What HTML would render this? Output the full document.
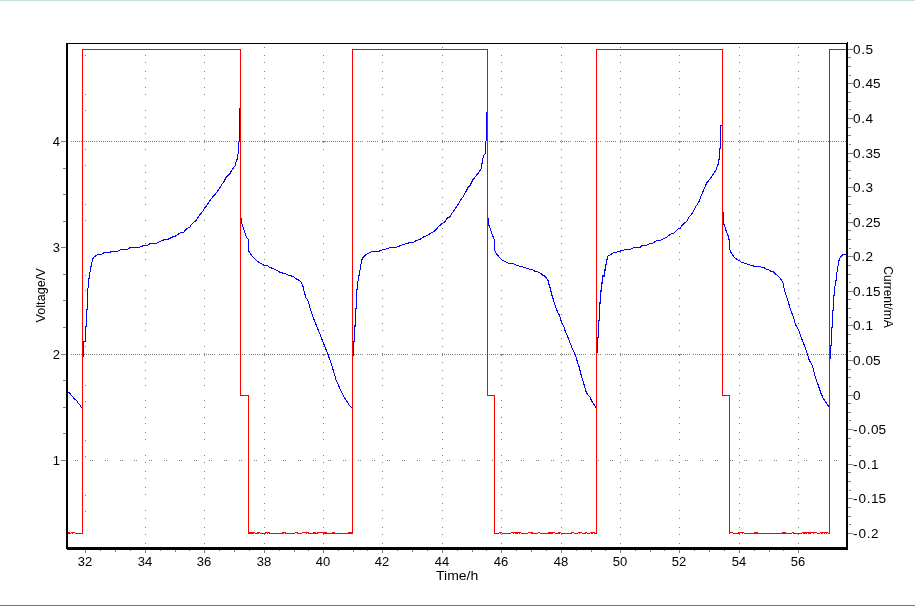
<!DOCTYPE html>
<html><head><meta charset="utf-8"><style>
html,body{margin:0;padding:0;background:#fff;}
body{width:918px;height:606px;position:relative;overflow:hidden;}
svg{position:absolute;left:0;top:0;}
.bl,.ll,.rl,.tt{position:absolute;font-family:"Liberation Sans",Arial,sans-serif;color:#000;white-space:nowrap;line-height:1;}
.bl{font-size:13px;width:40px;text-align:center;margin-top:555px;}
.ll{font-size:13px;width:60px;text-align:right;margin-top:-6px;}
.rl{font-size:13.6px;margin-top:-6.5px;}
.vt{position:absolute;font-family:"Liberation Sans",Arial,sans-serif;font-size:12px;line-height:1;white-space:nowrap;color:#000;}
</style></head><body>
<svg width="918" height="606" viewBox="0 0 918 606" shape-rendering="crispEdges"><rect x="0" y="0" width="915" height="1" fill="#c8e0d9"/><rect x="0" y="605" width="915" height="1" fill="#478b85"/><path d="M191 354h1v1h-1zM264 487h1v1h-1zM264 78h1v1h-1zM505 141h1v1h-1zM145 243h1v1h-1zM204 149h1v1h-1zM791 354h1v1h-1zM718 141h1v1h-1zM322 141h1v1h-1zM561 157h1v1h-1zM620 243h1v1h-1zM679 149h1v1h-1zM742 354h1v1h-1zM323 370h1v1h-1zM189 141h1v1h-1zM264 55h1v1h-1zM323 141h1v1h-1zM798 142h1v1h-1zM821 354h1v1h-1zM145 220h1v1h-1zM204 306h1v1h-1zM748 141h1v1h-1zM561 543h1v1h-1zM620 220h1v1h-1zM527 141h1v1h-1zM772 354h1v1h-1zM679 126h1v1h-1zM501 534h1v1h-1zM615 141h1v1h-1zM323 527h1v1h-1zM264 212h1v1h-1zM740 141h1v1h-1zM723 354h1v1h-1zM377 354h1v1h-1zM304 141h1v1h-1zM739 298h1v1h-1zM145 462h1v1h-1zM802 354h1v1h-1zM620 197h1v1h-1zM590 354h1v1h-1zM442 47h1v1h-1zM620 462h1v1h-1zM770 141h1v1h-1zM382 181h1v1h-1zM407 354h1v1h-1zM739 455h1v1h-1zM620 354h1v1h-1zM358 354h1v1h-1zM96 354h1v1h-1zM800 141h1v1h-1zM538 141h1v1h-1zM620 439h1v1h-1zM501 259h1v1h-1zM323 252h1v1h-1zM562 354h1v1h-1zM489 141h1v1h-1zM204 417h1v1h-1zM739 432h1v1h-1zM382 423h1v1h-1zM388 354h1v1h-1zM798 338h1v1h-1zM568 141h1v1h-1zM442 181h1v1h-1zM561 510h1v1h-1zM356 141h1v1h-1zM501 236h1v1h-1zM592 354h1v1h-1zM435 141h1v1h-1zM323 494h1v1h-1zM382 400h1v1h-1zM648 141h1v1h-1zM386 141h1v1h-1zM197 354h1v1h-1zM124 141h1v1h-1zM622 354h1v1h-1zM85 149h1v1h-1zM442 423h1v1h-1zM337 141h1v1h-1zM148 354h1v1h-1zM204 142h1v1h-1zM323 471h1v1h-1zM739 157h1v1h-1zM416 141h1v1h-1zM227 354h1v1h-1zM323 62h1v1h-1zM154 141h1v1h-1zM501 370h1v1h-1zM367 141h1v1h-1zM178 354h1v1h-1zM105 141h1v1h-1zM442 400h1v1h-1zM739 543h1v1h-1zM184 141h1v1h-1zM129 354h1v1h-1zM382 534h1v1h-1zM264 133h1v1h-1zM778 354h1v1h-1zM145 298h1v1h-1zM397 141h1v1h-1zM208 354h1v1h-1zM561 212h1v1h-1zM620 298h1v1h-1zM679 204h1v1h-1zM159 354h1v1h-1zM808 354h1v1h-1zM264 110h1v1h-1zM798 197h1v1h-1zM145 455h1v1h-1zM798 462h1v1h-1zM759 354h1v1h-1zM206 141h1v1h-1zM620 275h1v1h-1zM442 534h1v1h-1zM838 354h1v1h-1zM264 267h1v1h-1zM553 141h1v1h-1zM382 259h1v1h-1zM145 432h1v1h-1zM789 354h1v1h-1zM236 141h1v1h-1zM798 439h1v1h-1zM739 353h1v1h-1zM561 346h1v1h-1zM620 252h1v1h-1zM583 141h1v1h-1zM442 102h1v1h-1zM836 141h1v1h-1zM323 330h1v1h-1zM819 354h1v1h-1zM382 236h1v1h-1zM607 354h1v1h-1zM739 510h1v1h-1zM787 141h1v1h-1zM561 323h1v1h-1zM561 94h1v1h-1zM442 259h1v1h-1zM811 354h1v1h-1zM501 314h1v1h-1zM637 354h1v1h-1zM375 354h1v1h-1zM817 141h1v1h-1zM555 141h1v1h-1zM739 487h1v1h-1zM382 478h1v1h-1zM798 393h1v1h-1zM739 78h1v1h-1zM561 71h1v1h-1zM841 354h1v1h-1zM768 141h1v1h-1zM579 354h1v1h-1zM442 236h1v1h-1zM501 471h1v1h-1zM667 354h1v1h-1zM405 354h1v1h-1zM264 378h1v1h-1zM501 62h1v1h-1zM382 370h1v1h-1zM585 141h1v1h-1zM145 543h1v1h-1zM373 141h1v1h-1zM382 455h1v1h-1zM798 141h1v1h-1zM609 354h1v1h-1zM452 141h1v1h-1zM85 204h1v1h-1zM560 354h1v1h-1zM264 355h1v1h-1zM442 478h1v1h-1zM665 141h1v1h-1zM403 141h1v1h-1zM214 354h1v1h-1zM141 141h1v1h-1zM204 197h1v1h-1zM639 354h1v1h-1zM798 527h1v1h-1zM739 212h1v1h-1zM427 354h1v1h-1zM204 462h1v1h-1zM354 141h1v1h-1zM442 370h1v1h-1zM561 290h1v1h-1zM433 141h1v1h-1zM244 354h1v1h-1zM171 141h1v1h-1zM442 455h1v1h-1zM457 354h1v1h-1zM264 188h1v1h-1zM384 141h1v1h-1zM195 354h1v1h-1zM798 275h1v1h-1zM204 439h1v1h-1zM274 354h1v1h-1zM620 353h1v1h-1zM679 439h1v1h-1zM487 354h1v1h-1zM414 141h1v1h-1zM225 354h1v1h-1zM798 252h1v1h-1zM145 510h1v1h-1zM193 141h1v1h-1zM176 354h1v1h-1zM620 330h1v1h-1zM255 354h1v1h-1zM739 323h1v1h-1zM223 141h1v1h-1zM382 314h1v1h-1zM145 487h1v1h-1zM145 78h1v1h-1zM798 494h1v1h-1zM832 141h1v1h-1zM620 487h1v1h-1zM174 141h1v1h-1zM561 172h1v1h-1zM620 78h1v1h-1zM73 354h1v1h-1zM806 354h1v1h-1zM253 141h1v1h-1zM323 385h1v1h-1zM382 62h1v1h-1zM673 354h1v1h-1zM277 354h1v1h-1zM600 141h1v1h-1zM204 141h1v1h-1zM798 471h1v1h-1zM561 378h1v1h-1zM561 149h1v1h-1zM679 370h1v1h-1zM620 55h1v1h-1zM679 141h1v1h-1zM442 314h1v1h-1zM624 354h1v1h-1zM804 141h1v1h-1zM323 362h1v1h-1zM264 47h1v1h-1zM703 354h1v1h-1zM307 354h1v1h-1zM630 141h1v1h-1zM234 141h1v1h-1zM204 527h1v1h-1zM679 527h1v1h-1zM561 126h1v1h-1zM620 212h1v1h-1zM654 354h1v1h-1zM392 354h1v1h-1zM101 141h1v1h-1zM834 141h1v1h-1zM501 117h1v1h-1zM660 141h1v1h-1zM75 354h1v1h-1zM605 354h1v1h-1zM323 110h1v1h-1zM785 141h1v1h-1zM204 275h1v1h-1zM739 290h1v1h-1zM422 354h1v1h-1zM501 94h1v1h-1zM323 87h1v1h-1zM145 346h1v1h-1zM204 252h1v1h-1zM739 267h1v1h-1zM798 353h1v1h-1zM420 141h1v1h-1zM679 252h1v1h-1zM633 141h1v1h-1zM444 354h1v1h-1zM145 323h1v1h-1zM264 423h1v1h-1zM712 141h1v1h-1zM523 354h1v1h-1zM798 330h1v1h-1zM450 141h1v1h-1zM204 494h1v1h-1zM663 141h1v1h-1zM474 354h1v1h-1zM401 141h1v1h-1zM212 354h1v1h-1zM679 494h1v1h-1zM480 141h1v1h-1zM687 354h1v1h-1zM264 400h1v1h-1zM323 306h1v1h-1zM268 141h1v1h-1zM204 471h1v1h-1zM693 141h1v1h-1zM242 354h1v1h-1zM679 471h1v1h-1zM679 62h1v1h-1zM455 354h1v1h-1zM739 378h1v1h-1zM798 55h1v1h-1zM272 354h1v1h-1zM502 141h1v1h-1zM501 362h1v1h-1zM240 141h1v1h-1zM485 354h1v1h-1zM620 133h1v1h-1zM139 354h1v1h-1zM264 354h1v1h-1zM739 355h1v1h-1zM739 126h1v1h-1zM382 346h1v1h-1zM382 117h1v1h-1zM352 354h1v1h-1zM145 290h1v1h-1zM90 354h1v1h-1zM823 354h1v1h-1zM532 141h1v1h-1zM270 141h1v1h-1zM561 204h1v1h-1zM620 110h1v1h-1zM294 354h1v1h-1zM221 141h1v1h-1zM323 417h1v1h-1zM264 102h1v1h-1zM323 188h1v1h-1zM120 354h1v1h-1zM382 94h1v1h-1zM300 141h1v1h-1zM507 354h1v1h-1zM204 353h1v1h-1zM71 354h1v1h-1zM561 181h1v1h-1zM620 267h1v1h-1zM720 354h1v1h-1zM324 354h1v1h-1zM251 141h1v1h-1zM442 346h1v1h-1zM442 117h1v1h-1zM501 172h1v1h-1zM671 354h1v1h-1zM323 165h1v1h-1zM382 71h1v1h-1zM118 141h1v1h-1zM204 330h1v1h-1zM561 338h1v1h-1zM679 330h1v1h-1zM331 141h1v1h-1zM442 503h1v1h-1zM442 94h1v1h-1zM561 423h1v1h-1zM701 354h1v1h-1zM264 236h1v1h-1zM323 142h1v1h-1zM669 141h1v1h-1zM204 78h1v1h-1zM323 407h1v1h-1zM652 354h1v1h-1zM99 141h1v1h-1zM731 354h1v1h-1zM442 71h1v1h-1zM501 306h1v1h-1zM699 141h1v1h-1zM437 141h1v1h-1zM145 378h1v1h-1zM264 478h1v1h-1zM204 55h1v1h-1zM798 385h1v1h-1zM650 141h1v1h-1zM620 378h1v1h-1zM442 228h1v1h-1zM729 141h1v1h-1zM333 141h1v1h-1zM540 354h1v1h-1zM467 141h1v1h-1zM145 355h1v1h-1zM145 126h1v1h-1zM264 455h1v1h-1zM753 354h1v1h-1zM680 141h1v1h-1zM491 354h1v1h-1zM418 141h1v1h-1zM798 362h1v1h-1zM739 47h1v1h-1zM798 133h1v1h-1zM620 355h1v1h-1zM570 354h1v1h-1zM497 141h1v1h-1zM561 534h1v1h-1zM285 141h1v1h-1zM783 354h1v1h-1zM710 141h1v1h-1zM521 354h1v1h-1zM259 354h1v1h-1zM264 432h1v1h-1zM323 518h1v1h-1zM739 204h1v1h-1zM798 110h1v1h-1zM472 354h1v1h-1zM315 141h1v1h-1zM126 354h1v1h-1zM501 417h1v1h-1zM620 188h1v1h-1zM551 354h1v1h-1zM685 354h1v1h-1zM339 354h1v1h-1zM77 354h1v1h-1zM519 141h1v1h-1zM739 181h1v1h-1zM257 141h1v1h-1zM382 172h1v1h-1zM798 87h1v1h-1zM345 141h1v1h-1zM156 354h1v1h-1zM85 330h1v1h-1zM470 141h1v1h-1zM561 259h1v1h-1zM369 354h1v1h-1zM107 354h1v1h-1zM549 141h1v1h-1zM683 141h1v1h-1zM287 141h1v1h-1zM264 157h1v1h-1zM323 243h1v1h-1zM382 149h1v1h-1zM500 141h1v1h-1zM739 423h1v1h-1zM238 141h1v1h-1zM137 354h1v1h-1zM501 142h1v1h-1zM317 141h1v1h-1zM442 172h1v1h-1zM501 407h1v1h-1zM264 543h1v1h-1zM264 314h1v1h-1zM88 354h1v1h-1zM323 220h1v1h-1zM382 306h1v1h-1zM530 141h1v1h-1zM204 385h1v1h-1zM739 400h1v1h-1zM561 393h1v1h-1zM292 354h1v1h-1zM679 385h1v1h-1zM135 141h1v1h-1zM442 149h1v1h-1zM505 354h1v1h-1zM323 197h1v1h-1zM86 141h1v1h-1zM204 362h1v1h-1zM204 133h1v1h-1zM323 462h1v1h-1zM718 354h1v1h-1zM322 354h1v1h-1zM561 370h1v1h-1zM165 141h1v1h-1zM679 362h1v1h-1zM620 47h1v1h-1zM442 126h1v1h-1zM189 354h1v1h-1zM116 141h1v1h-1zM323 354h1v1h-1zM503 141h1v1h-1zM748 354h1v1h-1zM145 204h1v1h-1zM739 534h1v1h-1zM204 110h1v1h-1zM329 141h1v1h-1zM716 141h1v1h-1zM527 354h1v1h-1zM679 110h1v1h-1zM442 283h1v1h-1zM615 354h1v1h-1zM146 141h1v1h-1zM740 354h1v1h-1zM145 181h1v1h-1zM264 510h1v1h-1zM204 87h1v1h-1zM746 141h1v1h-1zM739 102h1v1h-1zM798 188h1v1h-1zM679 87h1v1h-1zM770 354h1v1h-1zM697 141h1v1h-1zM776 141h1v1h-1zM325 354h1v1h-1zM739 259h1v1h-1zM302 141h1v1h-1zM798 165h1v1h-1zM145 423h1v1h-1zM800 354h1v1h-1zM727 141h1v1h-1zM538 354h1v1h-1zM620 423h1v1h-1zM489 354h1v1h-1zM594 141h1v1h-1zM739 236h1v1h-1zM568 354h1v1h-1zM145 400h1v1h-1zM356 354h1v1h-1zM798 407h1v1h-1zM85 385h1v1h-1zM561 314h1v1h-1zM620 400h1v1h-1zM536 141h1v1h-1zM501 220h1v1h-1zM679 306h1v1h-1zM435 354h1v1h-1zM362 141h1v1h-1zM323 298h1v1h-1zM648 354h1v1h-1zM382 204h1v1h-1zM386 354h1v1h-1zM124 354h1v1h-1zM828 141h1v1h-1zM739 478h1v1h-1zM566 141h1v1h-1zM561 471h1v1h-1zM501 197h1v1h-1zM561 62h1v1h-1zM337 354h1v1h-1zM517 141h1v1h-1zM501 462h1v1h-1zM739 370h1v1h-1zM416 354h1v1h-1zM323 275h1v1h-1zM154 354h1v1h-1zM145 534h1v1h-1zM596 141h1v1h-1zM122 141h1v1h-1zM367 354h1v1h-1zM561 448h1v1h-1zM620 534h1v1h-1zM105 354h1v1h-1zM85 110h1v1h-1zM547 141h1v1h-1zM681 141h1v1h-1zM442 204h1v1h-1zM335 141h1v1h-1zM501 439h1v1h-1zM184 354h1v1h-1zM264 346h1v1h-1zM323 432h1v1h-1zM309 354h1v1h-1zM152 141h1v1h-1zM397 354h1v1h-1zM204 188h1v1h-1zM798 518h1v1h-1zM679 417h1v1h-1zM620 102h1v1h-1zM679 188h1v1h-1zM103 141h1v1h-1zM264 323h1v1h-1zM264 94h1v1h-1zM182 141h1v1h-1zM145 259h1v1h-1zM204 165h1v1h-1zM206 354h1v1h-1zM133 141h1v1h-1zM679 165h1v1h-1zM442 338h1v1h-1zM84 141h1v1h-1zM264 71h1v1h-1zM733 141h1v1h-1zM145 236h1v1h-1zM236 354h1v1h-1zM163 141h1v1h-1zM798 243h1v1h-1zM620 236h1v1h-1zM204 407h1v1h-1zM679 142h1v1h-1zM836 354h1v1h-1zM763 141h1v1h-1zM679 407h1v1h-1zM501 141h1v1h-1zM787 354h1v1h-1zM739 314h1v1h-1zM714 141h1v1h-1zM798 220h1v1h-1zM145 478h1v1h-1zM793 141h1v1h-1zM501 527h1v1h-1zM620 478h1v1h-1zM501 298h1v1h-1zM382 197h1v1h-1zM817 354h1v1h-1zM145 370h1v1h-1zM555 354h1v1h-1zM264 290h1v1h-1zM739 62h1v1h-1zM768 354h1v1h-1zM611 141h1v1h-1zM85 440h1v1h-1zM349 141h1v1h-1zM620 455h1v1h-1zM501 275h1v1h-1zM561 140h1v1h-1zM585 354h1v1h-1zM373 354h1v1h-1zM739 448h1v1h-1zM815 141h1v1h-1zM382 439h1v1h-1zM798 354h1v1h-1zM204 518h1v1h-1zM641 141h1v1h-1zM452 354h1v1h-1zM620 432h1v1h-1zM679 518h1v1h-1zM501 252h1v1h-1zM561 117h1v1h-1zM665 354h1v1h-1zM403 354h1v1h-1zM141 354h1v1h-1zM845 141h1v1h-1zM323 510h1v1h-1zM798 102h1v1h-1zM354 354h1v1h-1zM534 141h1v1h-1zM561 503h1v1h-1zM433 354h1v1h-1zM85 165h1v1h-1zM171 354h1v1h-1zM613 141h1v1h-1zM442 439h1v1h-1zM501 494h1v1h-1zM323 487h1v1h-1zM384 354h1v1h-1zM264 172h1v1h-1zM826 141h1v1h-1zM323 78h1v1h-1zM564 141h1v1h-1zM204 243h1v1h-1zM620 157h1v1h-1zM679 243h1v1h-1zM431 141h1v1h-1zM169 141h1v1h-1zM414 354h1v1h-1zM264 149h1v1h-1zM323 55h1v1h-1zM382 141h1v1h-1zM193 354h1v1h-1zM145 314h1v1h-1zM204 220h1v1h-1zM620 543h1v1h-1zM461 141h1v1h-1zM561 228h1v1h-1zM620 314h1v1h-1zM199 141h1v1h-1zM679 220h1v1h-1zM442 393h1v1h-1zM412 141h1v1h-1zM223 354h1v1h-1zM382 527h1v1h-1zM264 126h1v1h-1zM150 141h1v1h-1zM145 62h1v1h-1zM229 141h1v1h-1zM798 298h1v1h-1zM174 354h1v1h-1zM679 197h1v1h-1zM442 141h1v1h-1zM253 354h1v1h-1zM180 141h1v1h-1zM679 462h1v1h-1zM264 283h1v1h-1zM600 354h1v1h-1zM204 354h1v1h-1zM798 455h1v1h-1zM739 140h1v1h-1zM561 362h1v1h-1zM679 354h1v1h-1zM442 527h1v1h-1zM804 354h1v1h-1zM630 354h1v1h-1zM234 354h1v1h-1zM382 252h1v1h-1zM739 346h1v1h-1zM798 432h1v1h-1zM739 117h1v1h-1zM598 141h1v1h-1zM101 354h1v1h-1zM834 354h1v1h-1zM85 495h1v1h-1zM281 141h1v1h-1zM620 510h1v1h-1zM501 330h1v1h-1zM323 323h1v1h-1zM785 354h1v1h-1zM628 141h1v1h-1zM739 503h1v1h-1zM382 494h1v1h-1zM739 94h1v1h-1zM561 87h1v1h-1zM579 141h1v1h-1zM442 252h1v1h-1zM501 78h1v1h-1zM658 141h1v1h-1zM262 141h1v1h-1zM382 471h1v1h-1zM739 71h1v1h-1zM798 157h1v1h-1zM609 141h1v1h-1zM420 354h1v1h-1zM347 141h1v1h-1zM85 220h1v1h-1zM633 354h1v1h-1zM501 55h1v1h-1zM442 494h1v1h-1zM813 141h1v1h-1zM712 354h1v1h-1zM798 543h1v1h-1zM450 354h1v1h-1zM639 141h1v1h-1zM739 228h1v1h-1zM323 133h1v1h-1zM204 298h1v1h-1zM663 354h1v1h-1zM401 354h1v1h-1zM561 306h1v1h-1zM843 141h1v1h-1zM679 298h1v1h-1zM581 141h1v1h-1zM442 471h1v1h-1zM442 62h1v1h-1zM480 354h1v1h-1zM264 204h1v1h-1zM323 290h1v1h-1zM448 141h1v1h-1zM204 455h1v1h-1zM693 354h1v1h-1zM561 283h1v1h-1zM679 275h1v1h-1zM399 141h1v1h-1zM442 448h1v1h-1zM635 354h1v1h-1zM478 141h1v1h-1zM264 181h1v1h-1zM289 354h1v1h-1zM204 432h1v1h-1zM145 117h1v1h-1zM502 354h1v1h-1zM429 141h1v1h-1zM240 354h1v1h-1zM167 141h1v1h-1zM620 346h1v1h-1zM679 432h1v1h-1zM319 354h1v1h-1zM264 338h1v1h-1zM382 330h1v1h-1zM532 354h1v1h-1zM145 94h1v1h-1zM459 141h1v1h-1zM270 354h1v1h-1zM798 510h1v1h-1zM561 417h1v1h-1zM620 323h1v1h-1zM620 94h1v1h-1zM221 354h1v1h-1zM300 354h1v1h-1zM145 71h1v1h-1zM798 487h1v1h-1zM739 172h1v1h-1zM798 78h1v1h-1zM561 165h1v1h-1zM251 354h1v1h-1zM620 71h1v1h-1zM442 330h1v1h-1zM94 141h1v1h-1zM501 385h1v1h-1zM219 141h1v1h-1zM323 378h1v1h-1zM118 354h1v1h-1zM382 55h1v1h-1zM204 543h1v1h-1zM298 141h1v1h-1zM739 149h1v1h-1zM382 140h1v1h-1zM331 354h1v1h-1zM561 142h1v1h-1zM511 141h1v1h-1zM645 141h1v1h-1zM249 141h1v1h-1zM561 407h1v1h-1zM501 133h1v1h-1zM75 141h1v1h-1zM323 355h1v1h-1zM669 354h1v1h-1zM264 534h1v1h-1zM739 306h1v1h-1zM99 354h1v1h-1zM798 212h1v1h-1zM675 141h1v1h-1zM279 141h1v1h-1zM442 55h1v1h-1zM85 275h1v1h-1zM620 290h1v1h-1zM501 110h1v1h-1zM699 354h1v1h-1zM626 141h1v1h-1zM437 354h1v1h-1zM442 140h1v1h-1zM739 283h1v1h-1zM705 141h1v1h-1zM650 354h1v1h-1zM830 141h1v1h-1zM729 354h1v1h-1zM333 354h1v1h-1zM656 141h1v1h-1zM467 354h1v1h-1zM501 87h1v1h-1zM680 354h1v1h-1zM418 354h1v1h-1zM264 259h1v1h-1zM798 346h1v1h-1zM204 510h1v1h-1zM497 354h1v1h-1zM561 518h1v1h-1zM679 510h1v1h-1zM285 354h1v1h-1zM465 141h1v1h-1zM710 354h1v1h-1zM798 323h1v1h-1zM678 141h1v1h-1zM204 487h1v1h-1zM145 172h1v1h-1zM315 354h1v1h-1zM757 141h1v1h-1zM495 141h1v1h-1zM679 487h1v1h-1zM620 172h1v1h-1zM679 78h1v1h-1zM708 141h1v1h-1zM264 393h1v1h-1zM519 354h1v1h-1zM446 141h1v1h-1zM257 354h1v1h-1zM382 385h1v1h-1zM798 71h1v1h-1zM145 149h1v1h-1zM525 141h1v1h-1zM470 354h1v1h-1zM620 149h1v1h-1zM679 55h1v1h-1zM738 141h1v1h-1zM549 354h1v1h-1zM476 141h1v1h-1zM287 354h1v1h-1zM683 354h1v1h-1zM264 370h1v1h-1zM264 141h1v1h-1zM382 362h1v1h-1zM145 306h1v1h-1zM689 141h1v1h-1zM500 354h1v1h-1zM238 354h1v1h-1zM81 141h1v1h-1zM561 220h1v1h-1zM501 355h1v1h-1zM620 126h1v1h-1zM317 354h1v1h-1zM442 385h1v1h-1zM294 141h1v1h-1zM264 527h1v1h-1zM530 354h1v1h-1zM382 110h1v1h-1zM111 141h1v1h-1zM798 290h1v1h-1zM561 197h1v1h-1zM620 283h1v1h-1zM324 141h1v1h-1zM135 354h1v1h-1zM442 362h1v1h-1zM577 141h1v1h-1zM561 462h1v1h-1zM501 188h1v1h-1zM323 181h1v1h-1zM86 354h1v1h-1zM382 87h1v1h-1zM204 346h1v1h-1zM266 141h1v1h-1zM798 267h1v1h-1zM165 354h1v1h-1zM92 141h1v1h-1zM442 110h1v1h-1zM561 439h1v1h-1zM116 354h1v1h-1zM501 165h1v1h-1zM296 141h1v1h-1zM503 354h1v1h-1zM204 323h1v1h-1zM323 423h1v1h-1zM739 338h1v1h-1zM509 141h1v1h-1zM716 354h1v1h-1zM643 141h1v1h-1zM679 323h1v1h-1zM146 354h1v1h-1zM442 87h1v1h-1zM114 141h1v1h-1zM264 494h1v1h-1zM746 354h1v1h-1zM204 71h1v1h-1zM323 400h1v1h-1zM327 141h1v1h-1zM697 354h1v1h-1zM85 55h1v1h-1zM144 141h1v1h-1zM776 354h1v1h-1zM264 471h1v1h-1zM264 62h1v1h-1zM798 378h1v1h-1zM302 354h1v1h-1zM744 141h1v1h-1zM482 141h1v1h-1zM727 354h1v1h-1zM695 141h1v1h-1zM679 133h1v1h-1zM442 306h1v1h-1zM264 448h1v1h-1zM323 534h1v1h-1zM774 141h1v1h-1zM798 355h1v1h-1zM798 126h1v1h-1zM204 290h1v1h-1zM725 141h1v1h-1zM561 527h1v1h-1zM536 354h1v1h-1zM561 298h1v1h-1zM463 141h1v1h-1zM620 204h1v1h-1zM679 290h1v1h-1zM362 354h1v1h-1zM501 518h1v1h-1zM739 197h1v1h-1zM382 417h1v1h-1zM382 188h1v1h-1zM828 354h1v1h-1zM755 141h1v1h-1zM566 354h1v1h-1zM493 141h1v1h-1zM304 354h1v1h-1zM561 275h1v1h-1zM620 181h1v1h-1zM517 354h1v1h-1zM360 141h1v1h-1zM323 259h1v1h-1zM596 354h1v1h-1zM382 165h1v1h-1zM739 439h1v1h-1zM311 141h1v1h-1zM122 354h1v1h-1zM561 252h1v1h-1zM620 338h1v1h-1zM547 354h1v1h-1zM681 354h1v1h-1zM390 141h1v1h-1zM442 417h1v1h-1zM335 354h1v1h-1zM442 188h1v1h-1zM515 141h1v1h-1zM501 243h1v1h-1zM323 236h1v1h-1zM341 141h1v1h-1zM152 354h1v1h-1zM382 142h1v1h-1zM79 141h1v1h-1zM382 407h1v1h-1zM103 354h1v1h-1zM545 141h1v1h-1zM442 165h1v1h-1zM561 494h1v1h-1zM283 141h1v1h-1zM501 400h1v1h-1zM371 141h1v1h-1zM182 354h1v1h-1zM109 141h1v1h-1zM204 378h1v1h-1zM323 478h1v1h-1zM739 393h1v1h-1zM133 354h1v1h-1zM575 141h1v1h-1zM679 378h1v1h-1zM313 141h1v1h-1zM442 142h1v1h-1zM84 354h1v1h-1zM733 354h1v1h-1zM442 407h1v1h-1zM163 354h1v1h-1zM204 355h1v1h-1zM204 126h1v1h-1zM323 455h1v1h-1zM264 140h1v1h-1zM343 141h1v1h-1zM798 47h1v1h-1zM131 141h1v1h-1zM679 355h1v1h-1zM85 290h1v1h-1zM763 354h1v1h-1zM501 354h1v1h-1zM210 141h1v1h-1zM145 197h1v1h-1zM739 527h1v1h-1zM714 354h1v1h-1zM382 518h1v1h-1zM264 117h1v1h-1zM798 204h1v1h-1zM161 141h1v1h-1zM793 354h1v1h-1zM761 141h1v1h-1zM264 503h1v1h-1zM191 141h1v1h-1zM325 141h1v1h-1zM739 275h1v1h-1zM798 181h1v1h-1zM145 439h1v1h-1zM611 354h1v1h-1zM349 354h1v1h-1zM791 141h1v1h-1zM561 353h1v1h-1zM620 259h1v1h-1zM442 518h1v1h-1zM815 354h1v1h-1zM742 141h1v1h-1zM553 354h1v1h-1zM739 252h1v1h-1zM382 243h1v1h-1zM641 354h1v1h-1zM821 141h1v1h-1zM798 423h1v1h-1zM85 401h1v1h-1zM561 330h1v1h-1zM845 354h1v1h-1zM772 141h1v1h-1zM583 354h1v1h-1zM323 543h1v1h-1zM264 228h1v1h-1zM323 314h1v1h-1zM382 220h1v1h-1zM723 141h1v1h-1zM534 354h1v1h-1zM739 494h1v1h-1zM377 141h1v1h-1zM798 400h1v1h-1zM561 487h1v1h-1zM620 393h1v1h-1zM561 78h1v1h-1zM802 141h1v1h-1zM613 354h1v1h-1zM442 243h1v1h-1zM590 141h1v1h-1zM501 478h1v1h-1zM264 385h1v1h-1zM826 354h1v1h-1zM564 354h1v1h-1zM407 141h1v1h-1zM739 471h1v1h-1zM382 462h1v1h-1zM620 370h1v1h-1zM561 55h1v1h-1zM620 141h1v1h-1zM431 354h1v1h-1zM358 141h1v1h-1zM169 354h1v1h-1zM96 141h1v1h-1zM442 220h1v1h-1zM501 455h1v1h-1zM264 362h1v1h-1zM382 354h1v1h-1zM309 141h1v1h-1zM145 527h1v1h-1zM562 141h1v1h-1zM204 204h1v1h-1zM798 534h1v1h-1zM461 354h1v1h-1zM620 527h1v1h-1zM388 141h1v1h-1zM199 354h1v1h-1zM442 197h1v1h-1zM501 432h1v1h-1zM412 354h1v1h-1zM150 354h1v1h-1zM442 462h1v1h-1zM592 141h1v1h-1zM145 275h1v1h-1zM204 181h1v1h-1zM229 354h1v1h-1zM679 181h1v1h-1zM197 141h1v1h-1zM442 354h1v1h-1zM180 354h1v1h-1zM622 141h1v1h-1zM264 87h1v1h-1zM148 141h1v1h-1zM145 252h1v1h-1zM798 259h1v1h-1zM227 141h1v1h-1zM204 423h1v1h-1zM679 423h1v1h-1zM178 141h1v1h-1zM739 330h1v1h-1zM598 354h1v1h-1zM129 141h1v1h-1zM798 236h1v1h-1zM145 494h1v1h-1zM778 141h1v1h-1zM204 400h1v1h-1zM281 354h1v1h-1zM208 141h1v1h-1zM501 543h1v1h-1zM620 494h1v1h-1zM679 400h1v1h-1zM628 354h1v1h-1zM159 141h1v1h-1zM264 306h1v1h-1zM808 141h1v1h-1zM382 298h1v1h-1zM145 471h1v1h-1zM798 478h1v1h-1zM832 354h1v1h-1zM85 456h1v1h-1zM759 141h1v1h-1zM561 385h1v1h-1zM620 471h1v1h-1zM620 62h1v1h-1zM262 354h1v1h-1zM658 354h1v1h-1zM838 141h1v1h-1zM798 370h1v1h-1zM739 55h1v1h-1zM382 275h1v1h-1zM347 354h1v1h-1zM204 534h1v1h-1zM789 141h1v1h-1zM620 448h1v1h-1zM679 534h1v1h-1zM561 133h1v1h-1zM813 354h1v1h-1zM442 298h1v1h-1zM323 346h1v1h-1zM382 432h1v1h-1zM323 117h1v1h-1zM819 141h1v1h-1zM607 141h1v1h-1zM843 354h1v1h-1zM581 354h1v1h-1zM561 110h1v1h-1zM442 275h1v1h-1zM501 510h1v1h-1zM811 141h1v1h-1zM660 354h1v1h-1zM264 417h1v1h-1zM323 94h1v1h-1zM637 141h1v1h-1zM448 354h1v1h-1zM375 141h1v1h-1zM204 259h1v1h-1zM561 267h1v1h-1zM399 354h1v1h-1zM679 259h1v1h-1zM442 432h1v1h-1zM841 141h1v1h-1zM501 487h1v1h-1zM667 141h1v1h-1zM478 354h1v1h-1zM405 141h1v1h-1zM264 165h1v1h-1zM323 71h1v1h-1zM145 330h1v1h-1zM204 236h1v1h-1zM429 354h1v1h-1zM167 354h1v1h-1zM679 236h1v1h-1zM382 543h1v1h-1zM560 141h1v1h-1zM264 142h1v1h-1zM214 141h1v1h-1zM459 354h1v1h-1zM264 407h1v1h-1zM798 314h1v1h-1zM204 478h1v1h-1zM427 141h1v1h-1zM442 157h1v1h-1zM679 478h1v1h-1zM244 141h1v1h-1zM204 370h1v1h-1zM145 55h1v1h-1zM739 385h1v1h-1zM457 141h1v1h-1zM268 354h1v1h-1zM195 141h1v1h-1zM798 62h1v1h-1zM442 543h1v1h-1zM94 354h1v1h-1zM274 141h1v1h-1zM219 354h1v1h-1zM679 455h1v1h-1zM620 140h1v1h-1zM487 141h1v1h-1zM298 354h1v1h-1zM225 141h1v1h-1zM739 362h1v1h-1zM798 448h1v1h-1zM739 133h1v1h-1zM382 353h1v1h-1zM561 355h1v1h-1zM511 354h1v1h-1zM645 354h1v1h-1zM249 354h1v1h-1zM176 141h1v1h-1zM85 511h1v1h-1zM501 346h1v1h-1zM620 117h1v1h-1zM255 141h1v1h-1zM264 518h1v1h-1zM382 510h1v1h-1zM739 110h1v1h-1zM675 354h1v1h-1zM279 354h1v1h-1zM620 503h1v1h-1zM501 323h1v1h-1zM561 188h1v1h-1zM626 354h1v1h-1zM442 353h1v1h-1zM73 141h1v1h-1zM806 141h1v1h-1zM705 354h1v1h-1zM382 487h1v1h-1zM323 172h1v1h-1zM739 87h1v1h-1zM382 78h1v1h-1zM830 354h1v1h-1zM673 141h1v1h-1zM277 141h1v1h-1zM656 354h1v1h-1zM501 71h1v1h-1zM442 510h1v1h-1zM624 141h1v1h-1zM264 243h1v1h-1zM323 149h1v1h-1zM703 141h1v1h-1zM307 141h1v1h-1zM204 314h1v1h-1zM679 543h1v1h-1zM620 228h1v1h-1zM679 314h1v1h-1zM465 354h1v1h-1zM654 141h1v1h-1zM442 487h1v1h-1zM392 141h1v1h-1zM442 78h1v1h-1zM264 220h1v1h-1zM678 354h1v1h-1zM605 141h1v1h-1zM323 126h1v1h-1zM145 385h1v1h-1zM204 62h1v1h-1zM757 354h1v1h-1zM495 354h1v1h-1zM422 141h1v1h-1zM620 385h1v1h-1zM708 354h1v1h-1zM501 290h1v1h-1zM635 141h1v1h-1zM446 354h1v1h-1zM264 197h1v1h-1zM289 141h1v1h-1zM145 362h1v1h-1zM145 133h1v1h-1zM264 462h1v1h-1zM525 354h1v1h-1zM798 140h1v1h-1zM620 362h1v1h-1zM561 47h1v1h-1zM738 354h1v1h-1zM476 354h1v1h-1zM442 212h1v1h-1zM319 141h1v1h-1zM444 141h1v1h-1zM689 354h1v1h-1zM145 110h1v1h-1zM264 439h1v1h-1zM81 354h1v1h-1zM523 141h1v1h-1zM798 117h1v1h-1zM474 141h1v1h-1zM212 141h1v1h-1zM382 323h1v1h-1zM111 354h1v1h-1zM145 87h1v1h-1zM687 141h1v1h-1zM739 417h1v1h-1zM798 503h1v1h-1zM739 188h1v1h-1zM798 94h1v1h-1zM620 87h1v1h-1zM577 354h1v1h-1zM242 141h1v1h-1zM455 141h1v1h-1zM266 354h1v1h-1zM739 165h1v1h-1zM92 354h1v1h-1zM345 354h1v1h-1zM272 141h1v1h-1zM442 323h1v1h-1zM501 378h1v1h-1zM561 243h1v1h-1zM501 149h1v1h-1zM485 141h1v1h-1zM296 354h1v1h-1zM139 141h1v1h-1zM509 354h1v1h-1zM798 228h1v1h-1zM739 142h1v1h-1zM643 354h1v1h-1zM382 133h1v1h-1zM352 141h1v1h-1zM90 141h1v1h-1zM823 141h1v1h-1zM739 407h1v1h-1zM561 400h1v1h-1zM620 306h1v1h-1zM501 126h1v1h-1zM114 354h1v1h-1zM264 298h1v1h-1zM323 204h1v1h-1zM382 290h1v1h-1zM120 141h1v1h-1zM327 354h1v1h-1zM507 141h1v1h-1zM204 140h1v1h-1zM144 354h1v1h-1zM71 141h1v1h-1zM720 141h1v1h-1zM442 133h1v1h-1zM264 275h1v1h-1zM744 354h1v1h-1zM671 141h1v1h-1zM482 354h1v1h-1zM204 117h1v1h-1zM695 354h1v1h-1zM679 346h1v1h-1zM679 117h1v1h-1zM442 290h1v1h-1zM774 354h1v1h-1zM701 141h1v1h-1zM264 252h1v1h-1zM145 417h1v1h-1zM145 188h1v1h-1zM739 518h1v1h-1zM204 94h1v1h-1zM725 354h1v1h-1zM329 354h1v1h-1zM652 141h1v1h-1zM463 354h1v1h-1zM620 417h1v1h-1zM561 102h1v1h-1zM679 94h1v1h-1zM442 267h1v1h-1zM731 141h1v1h-1zM755 354h1v1h-1zM493 354h1v1h-1zM145 165h1v1h-1zM798 172h1v1h-1zM620 165h1v1h-1zM679 71h1v1h-1zM360 354h1v1h-1zM540 141h1v1h-1zM382 378h1v1h-1zM311 354h1v1h-1zM145 142h1v1h-1zM753 141h1v1h-1zM739 243h1v1h-1zM491 141h1v1h-1zM798 149h1v1h-1zM561 236h1v1h-1zM145 407h1v1h-1zM390 354h1v1h-1zM620 142h1v1h-1zM570 141h1v1h-1zM515 354h1v1h-1zM620 407h1v1h-1zM341 354h1v1h-1zM382 355h1v1h-1zM382 126h1v1h-1zM79 354h1v1h-1zM783 141h1v1h-1zM594 354h1v1h-1zM521 141h1v1h-1zM259 141h1v1h-1zM739 220h1v1h-1zM798 306h1v1h-1zM545 354h1v1h-1zM472 141h1v1h-1zM442 378h1v1h-1zM283 354h1v1h-1zM561 478h1v1h-1zM126 141h1v1h-1zM371 354h1v1h-1zM501 204h1v1h-1zM109 354h1v1h-1zM551 141h1v1h-1zM685 141h1v1h-1zM339 141h1v1h-1zM77 141h1v1h-1zM798 283h1v1h-1zM575 354h1v1h-1zM313 354h1v1h-1zM739 462h1v1h-1zM156 141h1v1h-1zM442 355h1v1h-1zM561 455h1v1h-1zM85 346h1v1h-1zM501 181h1v1h-1zM369 141h1v1h-1zM107 141h1v1h-1zM264 353h1v1h-1zM323 439h1v1h-1zM343 354h1v1h-1zM145 518h1v1h-1zM131 354h1v1h-1zM561 432h1v1h-1zM620 518h1v1h-1zM85 94h1v1h-1zM210 354h1v1h-1zM137 141h1v1h-1zM501 423h1v1h-1zM264 330h1v1h-1zM798 417h1v1h-1zM161 354h1v1h-1zM88 141h1v1h-1zM204 172h1v1h-1zM761 354h1v1h-1zM292 141h1v1h-1zM679 172h1v1h-1zM75 460h1v1h-1zM77 460h1v1h-1zM90 460h1v1h-1zM92 460h1v1h-1zM105 460h1v1h-1zM107 460h1v1h-1zM120 460h1v1h-1zM122 460h1v1h-1zM134 460h1v1h-1zM136 460h1v1h-1zM149 460h1v1h-1zM151 460h1v1h-1zM164 460h1v1h-1zM166 460h1v1h-1zM179 460h1v1h-1zM181 460h1v1h-1zM194 460h1v1h-1zM196 460h1v1h-1zM209 460h1v1h-1zM211 460h1v1h-1zM224 460h1v1h-1zM226 460h1v1h-1zM239 460h1v1h-1zM241 460h1v1h-1zM254 460h1v1h-1zM256 460h1v1h-1zM268 460h1v1h-1zM270 460h1v1h-1zM283 460h1v1h-1zM285 460h1v1h-1zM298 460h1v1h-1zM300 460h1v1h-1zM313 460h1v1h-1zM315 460h1v1h-1zM328 460h1v1h-1zM330 460h1v1h-1zM343 460h1v1h-1zM345 460h1v1h-1zM358 460h1v1h-1zM360 460h1v1h-1zM372 460h1v1h-1zM374 460h1v1h-1zM387 460h1v1h-1zM389 460h1v1h-1zM402 460h1v1h-1zM404 460h1v1h-1zM417 460h1v1h-1zM419 460h1v1h-1zM432 460h1v1h-1zM434 460h1v1h-1zM447 460h1v1h-1zM449 460h1v1h-1zM462 460h1v1h-1zM464 460h1v1h-1zM477 460h1v1h-1zM479 460h1v1h-1zM492 460h1v1h-1zM494 460h1v1h-1zM506 460h1v1h-1zM508 460h1v1h-1zM521 460h1v1h-1zM523 460h1v1h-1zM536 460h1v1h-1zM538 460h1v1h-1zM551 460h1v1h-1zM553 460h1v1h-1zM566 460h1v1h-1zM568 460h1v1h-1zM581 460h1v1h-1zM583 460h1v1h-1zM596 460h1v1h-1zM598 460h1v1h-1zM610 460h1v1h-1zM612 460h1v1h-1zM625 460h1v1h-1zM627 460h1v1h-1zM640 460h1v1h-1zM642 460h1v1h-1zM655 460h1v1h-1zM657 460h1v1h-1zM670 460h1v1h-1zM672 460h1v1h-1zM685 460h1v1h-1zM687 460h1v1h-1zM700 460h1v1h-1zM702 460h1v1h-1zM715 460h1v1h-1zM717 460h1v1h-1zM730 460h1v1h-1zM732 460h1v1h-1zM744 460h1v1h-1zM746 460h1v1h-1zM759 460h1v1h-1zM761 460h1v1h-1zM774 460h1v1h-1zM776 460h1v1h-1zM789 460h1v1h-1zM791 460h1v1h-1zM804 460h1v1h-1zM806 460h1v1h-1zM819 460h1v1h-1zM821 460h1v1h-1zM834 460h1v1h-1zM836 460h1v1h-1z" fill="#808080"/><path d="M85 550h1v3h-1zM100 550h1v1h-1zM115 550h1v2h-1zM130 550h1v1h-1zM145 550h1v3h-1zM160 550h1v1h-1zM175 550h1v2h-1zM189 550h1v1h-1zM204 550h1v3h-1zM219 550h1v1h-1zM234 550h1v2h-1zM249 550h1v1h-1zM264 550h1v3h-1zM279 550h1v1h-1zM294 550h1v2h-1zM308 550h1v1h-1zM323 550h1v3h-1zM338 550h1v1h-1zM353 550h1v2h-1zM367 550h1v1h-1zM382 550h1v3h-1zM397 550h1v1h-1zM412 550h1v2h-1zM427 550h1v1h-1zM442 550h1v3h-1zM457 550h1v1h-1zM472 550h1v2h-1zM486 550h1v1h-1zM501 550h1v3h-1zM516 550h1v1h-1zM531 550h1v2h-1zM546 550h1v1h-1zM561 550h1v3h-1zM576 550h1v1h-1zM591 550h1v2h-1zM605 550h1v1h-1zM620 550h1v3h-1zM635 550h1v1h-1zM650 550h1v2h-1zM664 550h1v1h-1zM679 550h1v3h-1zM694 550h1v1h-1zM709 550h1v2h-1zM724 550h1v1h-1zM739 550h1v3h-1zM754 550h1v1h-1zM769 550h1v2h-1zM783 550h1v1h-1zM798 550h1v3h-1zM61 460h5v1h-5zM63 433h3v1h-3zM63 407h3v1h-3zM63 380h3v1h-3zM61 354h5v1h-5zM63 327h3v1h-3zM63 300h3v1h-3zM63 274h3v1h-3zM61 247h5v1h-5zM63 221h3v1h-3zM63 194h3v1h-3zM63 168h3v1h-3zM61 141h5v1h-5zM848 49h5v1h-5zM848 57h3v1h-3zM848 66h3v1h-3zM849 75h2v1h-2zM848 83h5v1h-5zM848 92h3v1h-3zM848 101h3v1h-3zM849 109h2v1h-2zM848 118h5v1h-5zM848 127h3v1h-3zM848 135h3v1h-3zM849 144h2v1h-2zM848 153h5v1h-5zM848 161h3v1h-3zM848 170h3v1h-3zM849 178h2v1h-2zM848 187h5v1h-5zM848 196h3v1h-3zM848 204h3v1h-3zM849 213h2v1h-2zM848 222h5v1h-5zM848 230h3v1h-3zM848 239h3v1h-3zM849 248h2v1h-2zM848 256h5v1h-5zM848 265h3v1h-3zM848 274h3v1h-3zM849 282h2v1h-2zM848 291h5v1h-5zM848 299h3v1h-3zM848 308h3v1h-3zM849 317h2v1h-2zM848 325h5v1h-5zM848 334h3v1h-3zM848 343h3v1h-3zM849 351h2v1h-2zM848 360h5v1h-5zM848 369h3v1h-3zM848 377h3v1h-3zM849 386h2v1h-2zM848 395h5v1h-5zM848 403h3v1h-3zM848 412h3v1h-3zM849 420h2v1h-2zM848 429h5v1h-5zM848 438h3v1h-3zM848 446h3v1h-3zM849 455h2v1h-2zM848 464h5v1h-5zM848 472h3v1h-3zM848 481h3v1h-3zM849 490h2v1h-2zM848 498h5v1h-5zM848 507h3v1h-3zM848 516h3v1h-3zM849 524h2v1h-2zM848 533h5v1h-5z" fill="#808080"/><polyline points="67.5,391.5 70.0,393.5 72.0,396.0 74.0,398.5 77.0,401.0 78.0,403.0 80.0,405.0 81.5,407.5 82.5,407.5 82.5,356.5 83.5,356.5 83.5,341.5 85.5,341.5 85.5,326.5 86.5,326.0 86.5,310.0 87.5,309.5 87.5,295.5 88.2,285.3 89.1,277.5 90.2,271.2 91.3,265.0 92.4,259.9 93.5,257.2 95.2,256.4 97.4,254.5 101.3,254.5 104.4,252.5 110.9,252.0 117.9,251.1 120.9,249.6 127.5,249.4 130.1,247.5 138.8,247.5 143.2,245.7 147.5,245.5 150.1,243.5 156.2,243.3 162.3,240.5 165.0,239.3 168.8,239.0 171.4,237.4 175.7,236.0 180.0,233.1 183.8,232.0 185.9,229.3 189.7,227.2 192.3,223.4 196.1,220.5 199.3,215.4 202.5,211.6 204.7,208.1 207.9,203.8 211.1,198.8 215.4,193.9 218.6,189.7 221.7,184.6 223.7,182.4 224.5,180.4 225.8,177.9 228.3,175.4 230.3,173.0 231.6,170.5 233.6,167.6 235.3,165.5 235.7,163.0 236.5,160.6 237.3,158.9 237.6,154.4 238.5,153.6 238.5,142.8 239.5,141.6 239.5,108.5 240.5,108.5 240.5,218.5 241.5,218.5 241.5,223.5 242.4,224.8 243.4,228.3 244.4,230.7 245.4,234.7 246.9,237.7 248.4,239.2 248.4,250.5 249.9,252.5 250.9,254.5 253.3,257.5 256.3,260.4 258.5,262.0 261.1,263.5 264.2,265.5 267.6,265.5 269.8,267.6 273.3,268.5 276.8,270.5 280.3,272.4 284.6,273.5 289.0,275.5 293.3,276.4 296.8,279.4 299.4,280.3 301.2,282.5 302.8,285.5 303.6,289.9 304.7,293.3 306.0,297.7 307.7,300.3 308.0,301.0 309.5,305.9 310.9,310.9 312.9,316.8 314.9,321.8 316.9,326.7 319.4,332.7 321.3,337.6 322.8,341.6 324.8,346.5 327.3,352.5 329.3,358.5 330.4,360.9 331.9,365.9 333.4,370.8 334.9,375.8 335.9,379.8 337.9,383.7 339.9,388.7 341.8,392.6 343.8,396.6 346.3,400.5 348.8,404.5 351.2,407.5 352.5,407.5 352.5,355.5 353.5,355.5 353.5,341.5 354.5,341.5 354.5,326.0 355.6,326.0 355.6,308.9 356.7,308.2 356.7,294.0 357.4,284.4 358.6,277.7 359.7,271.7 360.7,265.8 361.9,259.9 363.4,256.9 365.6,254.7 368.6,253.2 371.5,251.7 376.0,251.2 378.5,251.4 382.0,249.9 386.3,249.0 390.7,247.5 396.4,247.3 401.1,245.3 405.5,243.8 409.9,242.6 413.8,242.0 416.8,240.3 420.3,239.2 423.8,236.8 427.3,235.5 430.8,233.1 434.3,231.1 436.9,228.5 438.6,226.4 441.2,224.3 444.7,222.0 447.3,218.1 449.9,216.8 451.7,213.7 454.8,209.5 458.0,204.7 460.2,200.4 462.9,197.2 465.5,192.4 467.7,188.1 470.4,184.9 473.1,179.5 475.7,176.3 479.0,172.0 481.1,168.8 481.6,165.0 482.7,160.7 483.4,155.4 484.9,154.0 485.6,153.5 485.6,141.6 486.5,140.6 486.5,112.5 487.5,112.5 487.5,218.5 488.5,218.5 488.5,224.9 489.4,226.3 490.9,230.8 492.4,235.2 493.9,238.7 494.4,239.7 494.4,249.6 495.9,253.1 497.9,255.5 499.8,258.0 501.8,260.0 504.8,261.5 507.8,263.0 512.7,263.5 515.7,265.0 519.6,266.2 523.0,266.9 525.9,268.1 529.9,269.4 532.9,269.9 534.9,271.4 537.8,271.9 540.8,273.3 542.8,275.3 545.2,276.3 546.7,278.3 548.2,280.8 548.9,284.2 550.2,288.2 551.2,292.2 552.2,296.1 553.7,300.6 555.1,305.5 556.6,309.5 558.1,313.4 559.6,315.4 560.5,319.0 561.9,322.9 563.9,326.9 565.4,331.8 567.4,335.8 568.9,339.8 570.4,343.7 572.3,348.7 574.3,352.7 575.8,356.6 577.3,361.6 579.3,367.5 580.4,372.4 581.6,376.5 582.8,380.7 584.1,384.8 585.3,388.9 586.5,393.0 588.2,395.1 589.8,396.7 591.1,399.6 592.7,402.9 594.8,405.4 595.6,407.5 596.5,407.5 596.5,352.0 597.5,352.0 597.5,337.5 598.5,337.5 598.5,320.5 599.5,320.5 599.5,303.0 600.5,303.0 600.5,291.0 601.5,291.0 601.5,283.0 602.5,283.0 602.5,276.0 604.5,276.0 604.5,270.0 605.5,270.0 605.5,264.5 606.5,264.0 606.5,260.0 607.5,259.0 607.5,256.5 608.9,255.4 610.8,254.5 613.8,252.5 615.0,252.5 618.6,251.6 622.3,250.4 625.9,249.5 630.4,249.5 633.2,247.7 640.4,247.2 642.2,245.4 646.8,245.2 649.5,243.6 652.7,243.4 656.3,240.7 660.4,240.4 664.5,238.1 667.2,236.8 669.5,235.0 671.3,233.6 673.6,233.2 677.7,229.1 679.9,228.6 682.2,225.0 686.8,221.3 689.5,216.3 691.4,214.4 693.6,210.8 695.4,207.1 697.3,204.4 699.1,201.3 700.4,198.1 701.3,195.4 702.7,192.2 704.5,188.1 705.9,184.9 706.8,182.2 708.1,181.8 709.5,179.5 711.3,177.2 713.1,174.5 715.4,170.9 716.7,168.6 717.5,164.5 718.5,164.0 718.5,159.5 719.5,159.0 719.5,148.5 720.5,148.5 720.5,126.0 721.5,125.5 722.5,125.5 722.5,212.5 721.5,212.5 723.5,212.5 723.5,223.7 724.4,224.9 725.5,228.9 726.7,232.4 728.2,235.8 729.2,240.5 729.6,248.6 730.7,252.0 732.5,254.9 734.8,257.8 737.1,259.5 739.4,260.7 741.7,262.4 745.7,263.4 748.6,264.5 752.1,265.7 756.2,266.5 759.0,266.7 763.4,267.4 766.4,269.1 768.9,269.7 770.8,271.4 773.3,271.9 775.3,273.8 777.8,275.8 780.2,278.3 781.7,280.3 782.7,281.8 783.5,285.7 784.7,290.7 785.9,294.6 787.2,298.6 788.7,303.5 790.1,308.5 791.6,312.5 793.6,317.4 794.0,319.0 795.5,324.9 797.4,327.4 798.9,330.9 800.9,336.8 802.9,341.8 804.9,346.7 806.8,352.2 807.8,355.6 809.3,360.6 811.3,363.6 812.6,366.5 813.8,371.5 815.0,375.7 816.2,379.8 817.5,383.1 818.6,386.4 820.0,390.6 821.2,393.9 822.4,396.3 823.7,399.2 825.7,402.1 827.4,404.6 828.6,406.6 829.5,406.6 829.5,358.5 830.5,358.5 830.5,345.2 831.5,345.2 831.5,328.0 832.3,327.2 832.3,310.9 833.4,310.2 833.4,296.1 834.4,295.4 834.4,287.2 835.6,285.0 836.4,276.1 837.6,268.7 838.6,262.8 839.3,259.1 840.8,256.9 842.3,255.1 843.8,254.2 846.0,254.2" fill="none" stroke="#0000ff" stroke-width="1.05" shape-rendering="crispEdges"/><path d="M68 532h2v1h-2zM68 533h1v1h-1zM69 533h1v1h-1zM70 533h1v1h-1zM71 532h1v1h-1zM72 532h1v1h-1zM72 533h1v1h-1zM73 532h1v1h-1zM74 532h1v1h-1zM75 533h5v1h-5zM80 533h2v1h-2zM67 532h2v1h-2zM82 49h1v485h-1zM82 49h159v1h-159zM240 49h1v347h-1zM240 395h9v1h-9zM248 395h1v139h-1zM249 533h1v1h-1zM250 533h1v1h-1zM251 533h2v1h-2zM253 532h2v1h-2zM253 533h1v1h-1zM255 533h2v1h-2zM257 532h2v1h-2zM257 533h1v1h-1zM258 533h1v1h-1zM259 532h1v1h-1zM260 533h5v1h-5zM265 532h3v1h-3zM265 533h1v1h-1zM267 533h1v1h-1zM268 532h2v1h-2zM269 533h1v1h-1zM270 533h5v1h-5zM275 533h3v1h-3zM278 533h3v1h-3zM281 533h1v1h-1zM282 532h4v1h-4zM282 533h1v1h-1zM283 533h1v1h-1zM285 533h1v1h-1zM286 533h1v1h-1zM287 533h5v1h-5zM292 533h3v1h-3zM295 532h3v1h-3zM297 533h1v1h-1zM298 533h3v1h-3zM301 533h1v1h-1zM302 532h3v1h-3zM305 532h4v1h-4zM306 533h1v1h-1zM308 533h1v1h-1zM309 533h4v1h-4zM313 532h3v1h-3zM313 533h1v1h-1zM314 533h1v1h-1zM315 533h1v1h-1zM316 533h1v1h-1zM317 532h4v1h-4zM317 533h1v1h-1zM321 532h4v1h-4zM323 533h1v1h-1zM324 533h1v1h-1zM325 532h2v1h-2zM325 533h1v1h-1zM326 533h1v1h-1zM327 533h5v1h-5zM332 532h3v1h-3zM332 533h1v1h-1zM333 533h1v1h-1zM334 533h1v1h-1zM335 533h2v1h-2zM337 533h5v1h-5zM342 533h1v1h-1zM343 533h5v1h-5zM348 532h4v1h-4zM348 533h1v1h-1zM349 533h1v1h-1zM350 533h1v1h-1zM351 533h1v1h-1zM248 532h5v1h-5zM352 49h1v485h-1zM352 49h136v1h-136zM487 49h1v347h-1zM487 395h8v1h-8zM494 395h1v139h-1zM495 533h4v1h-4zM499 532h3v1h-3zM500 533h1v1h-1zM502 533h3v1h-3zM505 533h1v1h-1zM506 533h5v1h-5zM511 532h3v1h-3zM513 533h1v1h-1zM514 532h4v1h-4zM515 533h1v1h-1zM516 533h1v1h-1zM517 533h1v1h-1zM518 532h3v1h-3zM519 533h1v1h-1zM521 533h2v1h-2zM523 533h5v1h-5zM528 532h1v1h-1zM529 532h1v1h-1zM530 532h3v1h-3zM531 533h1v1h-1zM532 533h1v1h-1zM533 533h5v1h-5zM538 532h2v1h-2zM540 533h2v1h-2zM542 533h4v1h-4zM546 533h2v1h-2zM548 532h4v1h-4zM548 533h1v1h-1zM549 533h1v1h-1zM550 533h1v1h-1zM551 533h1v1h-1zM552 532h3v1h-3zM552 533h1v1h-1zM555 533h3v1h-3zM558 532h1v1h-1zM558 533h1v1h-1zM559 532h2v1h-2zM559 533h1v1h-1zM561 533h1v1h-1zM562 533h3v1h-3zM565 533h1v1h-1zM566 533h1v1h-1zM567 533h2v1h-2zM569 533h2v1h-2zM571 532h3v1h-3zM571 533h1v1h-1zM574 533h1v1h-1zM575 533h2v1h-2zM577 533h1v1h-1zM578 532h4v1h-4zM579 533h1v1h-1zM582 533h3v1h-3zM585 532h2v1h-2zM585 533h1v1h-1zM587 533h1v1h-1zM588 533h2v1h-2zM590 532h2v1h-2zM591 533h1v1h-1zM592 532h3v1h-3zM592 533h1v1h-1zM594 533h1v1h-1zM595 533h1v1h-1zM596 49h1v485h-1zM596 49h127v1h-127zM722 49h1v347h-1zM722 395h8v1h-8zM729 395h1v139h-1zM730 532h3v1h-3zM733 533h5v1h-5zM738 532h2v1h-2zM738 533h1v1h-1zM739 533h1v1h-1zM740 532h2v1h-2zM742 532h2v1h-2zM742 533h1v1h-1zM744 533h3v1h-3zM747 533h5v1h-5zM752 533h1v1h-1zM753 533h1v1h-1zM754 532h3v1h-3zM754 533h1v1h-1zM755 533h1v1h-1zM756 533h1v1h-1zM757 532h1v1h-1zM757 533h1v1h-1zM758 533h5v1h-5zM763 533h2v1h-2zM765 533h4v1h-4zM769 533h4v1h-4zM773 533h2v1h-2zM775 533h3v1h-3zM778 533h2v1h-2zM780 533h2v1h-2zM782 532h4v1h-4zM782 533h1v1h-1zM783 533h1v1h-1zM784 533h1v1h-1zM785 533h1v1h-1zM786 533h1v1h-1zM787 533h2v1h-2zM789 533h3v1h-3zM792 532h2v1h-2zM793 533h1v1h-1zM794 533h4v1h-4zM798 533h2v1h-2zM800 533h2v1h-2zM802 532h4v1h-4zM803 533h1v1h-1zM804 533h1v1h-1zM805 533h1v1h-1zM806 532h3v1h-3zM806 533h1v1h-1zM808 533h1v1h-1zM809 532h3v1h-3zM809 533h1v1h-1zM810 533h1v1h-1zM812 532h2v1h-2zM813 533h1v1h-1zM814 532h1v1h-1zM815 532h2v1h-2zM817 533h3v1h-3zM820 532h4v1h-4zM821 533h1v1h-1zM822 533h1v1h-1zM824 532h1v1h-1zM824 533h1v1h-1zM825 532h1v1h-1zM826 532h2v1h-2zM826 533h1v1h-1zM828 533h1v1h-1zM829 49h1v485h-1zM829 49h18v1h-18z" fill="#ff0000"/><rect x="66" y="43" width="782" height="1" fill="#000"/><rect x="66" y="43" width="2" height="506" fill="#000"/><rect x="66" y="547" width="782" height="2" fill="#000"/><rect x="67" y="549" width="781" height="1" fill="#000"/><rect x="846" y="43" width="2" height="507" fill="#000"/><rect x="847" y="42" width="1" height="1" fill="#000"/></svg>
<div class="bl" style="left:65px;top:0px;">32</div><div class="bl" style="left:125px;top:0px;">34</div><div class="bl" style="left:184px;top:0px;">36</div><div class="bl" style="left:244px;top:0px;">38</div><div class="bl" style="left:303px;top:0px;">40</div><div class="bl" style="left:362px;top:0px;">42</div><div class="bl" style="left:422px;top:0px;">44</div><div class="bl" style="left:481px;top:0px;">46</div><div class="bl" style="left:541px;top:0px;">48</div><div class="bl" style="left:600px;top:0px;">50</div><div class="bl" style="left:659px;top:0px;">52</div><div class="bl" style="left:719px;top:0px;">54</div><div class="bl" style="left:778px;top:0px;">56</div><div class="ll" style="left:0px;top:460px;">1</div><div class="ll" style="left:0px;top:354px;">2</div><div class="ll" style="left:0px;top:247px;">3</div><div class="ll" style="left:0px;top:141px;">4</div><div class="rl" style="left:853px;top:49px;">0<span style="margin:0 0.6px">.</span>5</div><div class="rl" style="left:853px;top:83px;">0<span style="margin:0 0.6px">.</span>45</div><div class="rl" style="left:853px;top:118px;">0<span style="margin:0 0.6px">.</span>4</div><div class="rl" style="left:853px;top:153px;">0<span style="margin:0 0.6px">.</span>35</div><div class="rl" style="left:853px;top:187px;">0<span style="margin:0 0.6px">.</span>3</div><div class="rl" style="left:853px;top:222px;">0<span style="margin:0 0.6px">.</span>25</div><div class="rl" style="left:853px;top:256px;">0<span style="margin:0 0.6px">.</span>2</div><div class="rl" style="left:853px;top:291px;">0<span style="margin:0 0.6px">.</span>15</div><div class="rl" style="left:853px;top:325px;">0<span style="margin:0 0.6px">.</span>1</div><div class="rl" style="left:853px;top:360px;">0<span style="margin:0 0.6px">.</span>05</div><div class="rl" style="left:853px;top:395px;">0</div><div class="rl" style="left:853px;top:429px;"><span style="margin-right:1px">-</span>0<span style="margin:0 0.6px">.</span>05</div><div class="rl" style="left:853px;top:464px;"><span style="margin-right:1px">-</span>0<span style="margin:0 0.6px">.</span>1</div><div class="rl" style="left:853px;top:498px;"><span style="margin-right:1px">-</span>0<span style="margin:0 0.6px">.</span>15</div><div class="rl" style="left:853px;top:533px;"><span style="margin-right:1px">-</span>0<span style="margin:0 0.6px">.</span>2</div>
<div class="tt" style="left:436px;top:568px;font-size:14px;transform:scaleY(0.88);transform-origin:0 100%;">Time/h</div>
<div class="vt" style="left:14px;top:289px;font-size:12.7px;transform:rotate(-90deg);">Voltage/V</div>
<div class="vt" style="left:857px;top:291px;transform:rotate(90deg);">Current/mA</div>
</body></html>
